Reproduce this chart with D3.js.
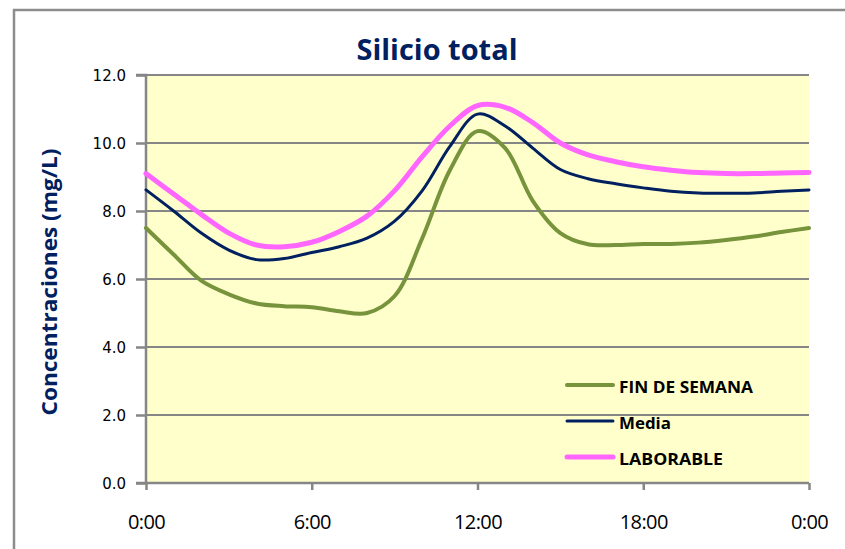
<!DOCTYPE html>
<html><head><meta charset="utf-8">
<script src="https://cdn.jsdelivr.net/npm/d3@7"></script>
<style>html,body{margin:0;padding:0;background:#fff;}svg{display:block;}</style>
</head><body>
<svg id="chart" width="845" height="549"></svg>
<script>
const hours = d3.range(0, 25);
const finDeSemana = [7.5, 6.72, 5.95, 5.55, 5.28, 5.2, 5.17, 5.05, 5.0, 5.5, 7.2, 9.2, 10.35, 9.85, 8.3, 7.35, 7.02, 7.0, 7.03, 7.03, 7.07, 7.15, 7.25, 7.38, 7.5];
const media = [8.62, 8.0, 7.35, 6.85, 6.57, 6.6, 6.78, 6.95, 7.2, 7.7, 8.6, 9.9, 10.85, 10.5, 9.85, 9.22, 8.95, 8.8, 8.68, 8.58, 8.53, 8.52, 8.53, 8.58, 8.62];
const laborable = [9.1, 8.5, 7.9, 7.35, 7.0, 6.95, 7.08, 7.4, 7.85, 8.6, 9.6, 10.5, 11.1, 11.05, 10.6, 10.0, 9.65, 9.45, 9.3, 9.2, 9.13, 9.1, 9.1, 9.12, 9.13];
const xTickHours = [0, 6, 12, 18, 24];
const xTickLabels = ["0:00", "6:00", "12:00", "18:00", "0:00"];
const yTicks = [0, 2, 4, 6, 8, 10, 12];
const seriesNames = ["FIN DE SEMANA", "Media", "LABORABLE"];
const seriesColors = ["#77933C", "#002060", "#FF66FF"];
const seriesWidths = [4, 3, 5];
const seriesData = [finDeSemana, media, laborable];

const svg = d3.select("#chart");
const L = 146, R = 809, T = 75, B = 483;
const x = d3.scaleLinear().domain([0, 24]).range([L, R]);
const y = d3.scaleLinear().domain([0, 12]).range([B, T]);

// outer border
svg.append("rect").attr("x", 14).attr("y", 10).attr("width", 900).attr("height", 600)
  .attr("fill", "none").attr("stroke", "#8c8c8c").attr("stroke-width", 2.5);

// plot background
svg.append("rect").attr("x", L).attr("y", T).attr("width", R - L).attr("height", B - T).attr("fill", "#FFFFCC");

// gridlines
svg.append("g").selectAll("line").data(yTicks.filter(d => d > 0)).join("line")
  .attr("x1", L).attr("x2", R).attr("y1", d => y(d)).attr("y2", d => y(d))
  .attr("stroke", "#868686").attr("stroke-width", 2);

// y axis
const yAxis = d3.axisLeft(y).tickValues(yTicks).tickSize(10).tickPadding(10).tickFormat(d3.format(".1f"));
const gy = svg.append("g").attr("transform", `translate(${L},0)`).call(yAxis);
gy.select(".domain").attr("stroke", "#868686").attr("stroke-width", 2.5).attr("d", `M-10,${B}H0V${T}H-10`);
gy.selectAll(".tick line").attr("stroke", "#868686").attr("stroke-width", 2.5);
gy.selectAll(".tick text").attr("font-family", "DejaVu Sans, Verdana, sans-serif").attr("font-size", 15).attr("fill", "#000").attr("dy", "0.36em");

// x axis
const xAxis = d3.axisBottom(x).tickValues(xTickHours).tickSize(7).tickPadding(25).tickFormat((d, i) => xTickLabels[i]);
const gx = svg.append("g").attr("transform", `translate(0,${B})`).call(xAxis);
gx.select(".domain").attr("stroke", "#868686").attr("stroke-width", 2.5).attr("d", `M${L},0H${R}`);
gx.selectAll(".tick line").attr("stroke", "#868686").attr("stroke-width", 2.5);
gx.selectAll(".tick text").attr("font-family", "Open Sans, sans-serif").attr("font-size", 20).attr("fill", "#000").attr("letter-spacing", -0.6);

// lines
const line = d3.line().x((d, i) => x(hours[i])).y(d => y(d)).curve(d3.curveCatmullRom.alpha(0.5));
seriesData.forEach((data, k) => {
  svg.append("path").datum(data).attr("d", line).attr("fill", "none")
    .attr("stroke", seriesColors[k]).attr("stroke-width", seriesWidths[k])
    .attr("stroke-linejoin", "round").attr("stroke-linecap", "round");
});

// legend
const legendLens = [134, 52, 104];
const lg = svg.append("g");
seriesNames.forEach((name, k) => {
  const yy = 385 + k * 36;
  lg.append("line").attr("x1", 567).attr("x2", 613).attr("y1", yy).attr("y2", yy)
    .attr("stroke", seriesColors[k]).attr("stroke-width", seriesWidths[k]).attr("stroke-linecap", "round");
  lg.append("text").attr("x", 619).attr("y", yy + 8).text(name)
    .attr("font-family", "Open Sans, sans-serif").attr("font-weight", "bold").attr("font-size", 16).attr("fill", "#000")
    .attr("textLength", legendLens[k]).attr("lengthAdjust", "spacingAndGlyphs");
});

// title
svg.append("text").attr("x", 437).attr("y", 60).attr("text-anchor", "middle").text("Silicio total")
  .attr("font-family", "Open Sans, sans-serif").attr("font-weight", "bold").attr("font-size", 29)
  .attr("fill", "#002060").attr("textLength", 161).attr("lengthAdjust", "spacingAndGlyphs");

// y label
svg.append("text").attr("transform", "translate(57,282) rotate(-90)").attr("text-anchor", "middle")
  .text("Concentraciones (mg/L)")
  .attr("font-family", "Open Sans, sans-serif").attr("font-weight", "bold").attr("font-size", 22)
  .attr("fill", "#002060").attr("textLength", 267).attr("lengthAdjust", "spacingAndGlyphs");
</script>
</body></html>
